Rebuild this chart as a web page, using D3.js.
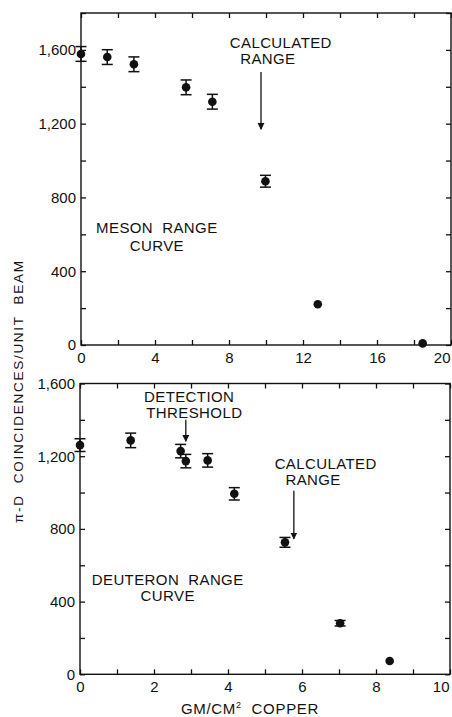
<!DOCTYPE html>
<html><head><meta charset="utf-8">
<script src="https://cdn.jsdelivr.net/npm/d3@7/dist/d3.min.js"></script>
<style>
body{margin:0;background:#fff;}
svg text{font-family:"Liberation Sans",Arial,sans-serif;fill:#111;white-space:pre;}
</style></head>
<body><svg id="c" width="452" height="717"></svg>
<script>
// Top panel: meson range curve
const mesonX   = [0, 1.42, 2.86, 5.68, 7.1, 9.97, 12.8, 18.47];
const mesonY   = [1578, 1561, 1522, 1397, 1319, 888, 221, 9];
const mesonErr = [40, 40, 40, 40, 40, 32, 0, 0];
// Bottom panel: deuteron range curve
const deutX   = [0, 1.37, 2.72, 2.86, 3.45, 4.17, 5.54, 7.03, 8.37];
const deutY   = [1261, 1287, 1228, 1173, 1177, 993, 726, 281, 73];
const deutErr = [35, 40, 37, 37, 37, 34, 27, 15, 0];

const topXTicks = [0, 4, 8, 12, 16, 20];
const topYTicks = [0, 400, 800, 1200, 1600];
const botXTicks = [0, 2, 4, 6, 8, 10];
const botYTicks = [0, 400, 800, 1200, 1600];

const svg = d3.select("#c");
const ink = "#111";
const fmt = d3.format(",");

function panel(cfg){
  const x = d3.scaleLinear().domain(cfg.xDom).range([cfg.left, cfg.right]);
  const y = d3.scaleLinear().domain(cfg.yDom).range([cfg.bottom, cfg.top]);
  const g = svg.append("g");
  g.append("rect").attr("x", cfg.left).attr("y", cfg.top)
    .attr("width", cfg.right - cfg.left).attr("height", cfg.bottom - cfg.top)
    .attr("fill", "none").attr("stroke", ink).attr("stroke-width", 1.4);
  const tl = 5;
  const ax = [
    {a: d3.axisBottom(x).tickValues(cfg.xMinor).tickSize(-tl).tickFormat(""), t: `translate(0,${cfg.bottom})`},
    {a: d3.axisTop(x).tickValues(cfg.xMinor).tickSize(-tl).tickFormat(""), t: `translate(0,${cfg.top})`},
    {a: d3.axisLeft(y).tickValues(cfg.yMinor).tickSize(-tl).tickFormat(""), t: `translate(${cfg.left},0)`},
    {a: d3.axisRight(y).tickValues(cfg.yMinor).tickSize(-tl).tickFormat(""), t: `translate(${cfg.right},0)`}
  ];
  ax.forEach(o => {
    const a = g.append("g").attr("transform", o.t).call(o.a);
    a.select(".domain").remove();
    a.selectAll("line").attr("stroke", ink).attr("stroke-width", 1.3);
  });
  const xl = g.append("g").attr("transform", `translate(0,${cfg.bottom})`)
    .call(d3.axisBottom(x).tickValues(cfg.xTicks).tickSize(0).tickPadding(7));
  xl.select(".domain").remove();
  xl.selectAll("text").attr("font-size", 15).attr("fill", ink)
    .attr("font-family", "Liberation Sans, Arial, sans-serif");
  xl.selectAll(".tick").filter((d, i, n) => i === n.length - 1).select("text")
    .attr("text-anchor", "end").attr("x", -1);
  const yl = g.append("g").attr("transform", `translate(${cfg.left},0)`)
    .call(d3.axisLeft(y).tickValues(cfg.yTicks).tickSize(0).tickPadding(5).tickFormat(fmt));
  yl.select(".domain").remove();
  yl.selectAll("text").attr("font-size", 15).attr("fill", ink)
    .attr("font-family", "Liberation Sans, Arial, sans-serif");
  const idx = d3.range(cfg.xs.length);
  const eb = g.append("g").attr("stroke", ink).attr("stroke-width", 1.5);
  idx.filter(i => cfg.err[i] > 0).forEach(i => {
    const cx = x(cfg.xs[i]), y1 = y(cfg.ys[i] + cfg.err[i]), y2 = y(cfg.ys[i] - cfg.err[i]);
    eb.append("line").attr("x1", cx).attr("x2", cx).attr("y1", y1).attr("y2", y2);
    eb.append("line").attr("x1", cx - 5.5).attr("x2", cx + 5.5).attr("y1", y1).attr("y2", y1);
    eb.append("line").attr("x1", cx - 5.5).attr("x2", cx + 5.5).attr("y1", y2).attr("y2", y2);
  });
  g.append("g").selectAll("circle").data(idx).join("circle")
    .attr("cx", i => x(cfg.xs[i])).attr("cy", i => y(cfg.ys[i])).attr("r", 4.3).attr("fill", ink);
  return {x, y, g};
}

svg.append("defs").append("marker").attr("id", "ah").attr("viewBox", "0 0 10 10")
  .attr("refX", 9).attr("refY", 5).attr("markerWidth", 7).attr("markerHeight", 8)
  .attr("markerUnits", "userSpaceOnUse").attr("orient", "auto")
  .append("path").attr("d", "M0,0 L10,5 L0,10 Z").attr("fill", ink);

function arrow(p, xv, yFrom, yTo){
  p.g.append("line").attr("x1", p.x(xv)).attr("x2", p.x(xv))
    .attr("y1", p.y(yFrom)).attr("y2", p.y(yTo))
    .attr("stroke", ink).attr("stroke-width", 1.3).attr("marker-end", "url(#ah)");
}
function label(p, lines, xv, yv, size){
  const t = p.g.append("text").attr("font-size", size || 15).attr("text-anchor", "middle")
    .attr("letter-spacing", 0.4);
  lines.forEach((s, k) => t.append("tspan").attr("x", p.x(xv[k])).attr("y", p.y(yv[k])).text(s));
}

const P1 = panel({xDom:[0,20], yDom:[0,1800], left:81, right:451, top:13, bottom:345,
  xs:mesonX, ys:mesonY, err:mesonErr, xTicks:topXTicks, yTicks:topYTicks,
  xMinor:d3.range(0,21,2), yMinor:d3.range(0,1801,200)});
const P2 = panel({xDom:[0,10], yDom:[0,1600], left:80, right:450, top:383.5, bottom:674.3,
  xs:deutX, ys:deutY, err:deutErr, xTicks:botXTicks, yTicks:botYTicks,
  xMinor:d3.range(0,11,1), yMinor:d3.range(0,1601,200)});

label(P1, ["CALCULATED", "RANGE"], [10.8, 10.1], [1610, 1523]);
arrow(P1, 9.73, 1480, 1170);
label(P1, ["MESON  RANGE", "CURVE"], [4.1, 4.1], [605, 510]);
label(P2, ["DETECTION", "THRESHOLD"], [2.95, 3.09], [1500, 1412]);
arrow(P2, 2.86, 1400, 1282);
label(P2, ["CALCULATED", "RANGE"], [6.64, 6.3], [1130, 1044]);
arrow(P2, 5.78, 1010, 745);
label(P2, ["DEUTERON  RANGE", "CURVE"], [2.37, 2.37], [490, 403]);

svg.append("text").attr("transform", "translate(23,392) rotate(-90)")
  .attr("text-anchor", "middle").attr("font-size", 13.5)
  .attr("textLength", 262).attr("lengthAdjust", "spacing")
  .text("π-D  COINCIDENCES/UNIT  BEAM");
const xt = svg.append("text").attr("x", 250).attr("y", 714).attr("text-anchor", "middle")
  .attr("font-size", 15).attr("letter-spacing", 0.7);
xt.append("tspan").text("GM/CM");
xt.append("tspan").attr("font-size", 9).attr("dy", -6).text("2");
xt.append("tspan").attr("dy", 6).text("  COPPER");
</script></body></html>
